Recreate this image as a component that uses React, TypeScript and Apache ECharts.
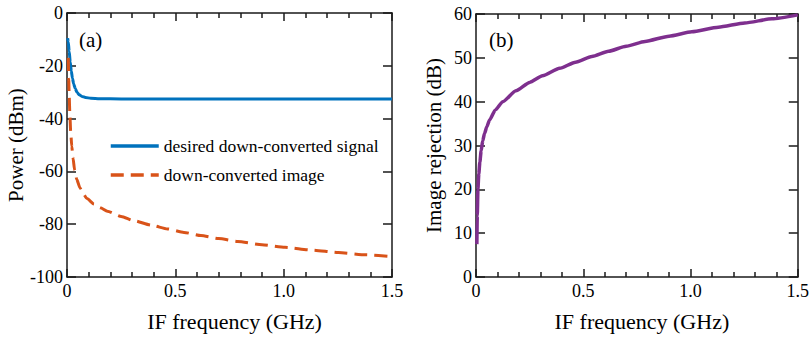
import React, { useEffect, useRef } from "react";
import * as echarts from "echarts";

// Panel (a): desired down-converted signal (blue)
const signalFreq = [0.003, 0.006, 0.01, 0.015, 0.02, 0.025, 0.031, 0.038, 0.046, 0.057, 0.069, 0.085, 0.11, 0.15, 0.25, 0.5, 1.0, 1.5];
const signalPower = [-9.5, -11, -14.5, -18.6, -22, -24.7, -26.9, -28.6, -30.0, -31.0, -31.6, -32.0, -32.3, -32.45, -32.55, -32.6, -32.6, -32.6];

// Panel (a): down-converted image (orange dashed)
const imageFreq = [0.006, 0.008, 0.01, 0.013, 0.017, 0.022, 0.028, 0.035, 0.045, 0.06, 0.075, 0.092, 0.125, 0.154, 0.186, 0.25, 0.31, 0.39, 0.464, 0.54, 0.618, 0.7, 0.788, 0.9, 1.006, 1.13, 1.253, 1.38, 1.5];
const imagePower = [-17, -25, -31, -38, -45, -50.5, -55, -59.5, -63.0, -66.3, -68.5, -70.3, -72.4, -73.8, -75.1, -77.1, -78.7, -80.4, -81.8, -83.1, -84.3, -85.45, -86.55, -87.75, -88.75, -89.8, -90.75, -91.6, -92.3];

// Panel (b): image rejection (purple)
const rejFreq = [0.004, 0.006, 0.009, 0.013, 0.018, 0.024, 0.031, 0.04, 0.05, 0.063, 0.09, 0.125, 0.186, 0.25, 0.31, 0.39, 0.464, 0.54, 0.618, 0.7, 0.788, 0.9, 1.006, 1.13, 1.253, 1.38, 1.5];
const rejValue = [7.5, 14, 20, 23.5, 26.2, 28.8, 31.0, 32.8, 34.2, 35.8, 38.1, 40.0, 42.5, 44.4, 45.9, 47.6, 49.0, 50.3, 51.5, 52.65, 53.75, 54.95, 55.95, 57.0, 57.95, 58.9, 59.8];

const xTickLabels = ["0", "0.5", "1.0", "1.5"];
const seriesNames = ["desired down-converted signal", "down-converted image", "image rejection"];

const FONT = "'Liberation Serif', 'Times New Roman', serif";

function zip(xs: number[], ys: number[]) {
  return xs.map((x, i) => [x, ys[i]]);
}

export default function App() {
  const ref = useRef<HTMLDivElement>(null);
  useEffect(() => {
    if (!ref.current) return;
    const chart = echarts.init(ref.current, undefined, { renderer: "svg" });
    const axisLine = { show: true, onZero: false, lineStyle: { color: "#1a1a1a", width: 1.5 } };
    const tickStyle = { color: "#1a1a1a", width: 1.5 };
    const mkX = (grid: number, pos: "bottom" | "top", labels: boolean) => ({
      type: "value",
      gridIndex: grid,
      position: pos,
      min: 0,
      max: 1.5,
      interval: 0.5,
      axisLine,
      axisTick: { show: true, inside: true, length: 8, lineStyle: tickStyle },
      minorTick: { show: true, splitNumber: 5, length: 5, lineStyle: tickStyle },
      splitLine: { show: false },
      minorSplitLine: { show: false },
      axisLabel: {
        show: labels,
        color: "#000",
        fontFamily: FONT,
        fontSize: 18,
        margin: 5,
        formatter: (v: number) => xTickLabels[Math.round(v / 0.5)],
      },
      name: labels ? "IF frequency (GHz)" : "",
      nameLocation: "middle",
      nameGap: 33,
      nameTextStyle: { color: "#000", fontFamily: FONT, fontSize: 22, padding: [0, 0, 0, 10] },
    });
    const mkY = (grid: number, pos: "left" | "right", labels: boolean, min: number, max: number, interval: number, name: string, gap: number) => ({
      type: "value",
      gridIndex: grid,
      position: pos,
      min,
      max,
      interval,
      axisLine,
      axisTick: { show: true, inside: true, length: 9, lineStyle: tickStyle },
      splitLine: { show: false },
      axisLabel: { show: labels, color: "#000", fontFamily: FONT, fontSize: 18, margin: 4 },
      name: labels ? name : "",
      nameLocation: "middle",
      nameGap: gap,
      nameTextStyle: { color: "#000", fontFamily: FONT, fontSize: 21 },
    });
    chart.setOption({
      animation: false,
      backgroundColor: "#fff",
      grid: [
        { left: 67, right: 420, top: 13, bottom: 57 },
        { left: 476, right: 12, top: 14, bottom: 57 },
      ],
      xAxis: [mkX(0, "bottom", true), mkX(0, "top", false), mkX(1, "bottom", true), mkX(1, "top", false)],
      yAxis: [
        mkY(0, "left", true, -100, 0, 20, "Power (dBm)", 34),
        mkY(0, "right", false, -100, 0, 20, "", 0),
        mkY(1, "left", true, 0, 60, 10, "Image rejection (dB)", 32),
        mkY(1, "right", false, 0, 60, 10, "", 0),
      ],
      legend: {
        data: [seriesNames[0], seriesNames[1]],
        orient: "vertical",
        left: 109,
        top: 137,
        padding: 0,
        itemWidth: 48,
        itemHeight: 14,
        itemGap: 11,
        itemStyle: { opacity: 0, borderWidth: 0 },
        lineStyle: { width: 3.5 },
        textStyle: { color: "#000", fontFamily: FONT, fontSize: 17.5 },
      },
      graphic: [
        { type: "text", left: 79, top: 29, style: { text: "(a)", fontFamily: FONT, fontSize: 21, fill: "#000" } },
        { type: "text", left: 489, top: 29, style: { text: "(b)", fontFamily: FONT, fontSize: 21, fill: "#000" } },
      ],
      series: [
        {
          name: seriesNames[0],
          type: "line",
          xAxisIndex: 0,
          yAxisIndex: 0,
          data: zip(signalFreq, signalPower),
          symbol: "none",
          smooth: 0.2,
          smoothMonotone: "x",
          lineStyle: { color: "#0072BD", width: 3 },
          itemStyle: { color: "#0072BD" },
        },
        {
          name: seriesNames[1],
          type: "line",
          xAxisIndex: 0,
          yAxisIndex: 0,
          data: zip(imageFreq, imagePower),
          symbol: "none",
          smooth: 0.2,
          smoothMonotone: "x",
          lineStyle: { color: "#D95319", width: 3, type: [13, 7] },
          itemStyle: { color: "#D95319" },
        },
        {
          name: seriesNames[2],
          type: "line",
          xAxisIndex: 2,
          yAxisIndex: 2,
          data: zip(rejFreq, rejValue),
          symbol: "none",
          smooth: 0.2,
          smoothMonotone: "x",
          lineStyle: { color: "#7E2F8E", width: 3.5 },
          itemStyle: { color: "#7E2F8E" },
        },
      ],
    });
    return () => chart.dispose();
  }, []);
  return <div ref={ref} style={{ position: "fixed", left: 0, top: 0, width: 812, height: 337 }} />;
}
